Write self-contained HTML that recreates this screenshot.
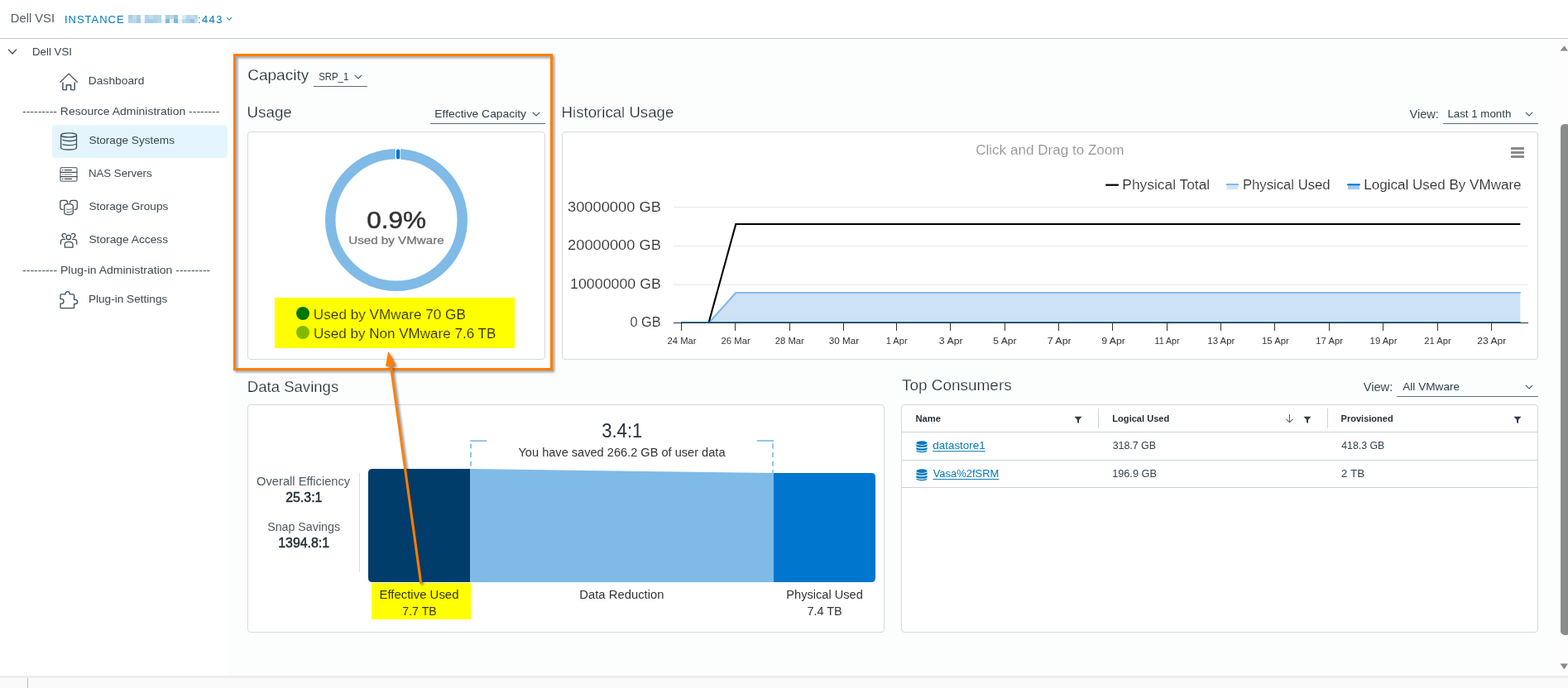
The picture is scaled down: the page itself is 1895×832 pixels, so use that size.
<!DOCTYPE html>
<html lang="en"><head><meta charset="utf-8"><title>Dell VSI - Storage Systems</title>
<style>
*{box-sizing:border-box;margin:0;padding:0}
html,body{width:1895px;height:832px;overflow:hidden;background:#fff}
body{font-family:"Liberation Sans",sans-serif;color:#3c4a52}
#app{position:relative;width:1895px;height:832px;overflow:hidden;background:#fff}
.t{position:absolute;white-space:pre;display:block;transform-origin:0 0}
.abs{position:absolute}
.main-bg{position:absolute;left:275px;top:47px;width:1620px;height:771px;background:#fcfdfd}
.hdr-line{position:absolute;left:0;top:46px;width:1895px;height:1px;background:#c9c9c9}
.card{position:absolute;background:#fff;border:1px solid #d9d9d9;border-radius:4px}
.nav-active{position:absolute;left:63px;top:151px;width:212px;height:40px;background:#e4f5fd;border-radius:4px}
.uline{position:absolute;height:1px;background:#5d6f79}
.hl{position:absolute;background:#ffff00;mix-blend-mode:multiply}
svg{position:absolute;overflow:visible}
a.t{text-decoration:underline;text-decoration-thickness:1px;text-underline-offset:1.5px}
.redact{position:absolute;left:155px;top:18px;width:84px;height:10px;display:grid;grid-template-columns:repeat(16,5px) 4px;grid-template-rows:5px 5px}
</style></head>
<body><div id="app">
<header>
<span class="t" style="left:12px;top:12px;font-size:15px;line-height:20px;color:#4f5a61;transform:translate(0.78px,0.00px) scaleX(0.9833);">Dell VSI</span>
<span class="t" style="left:77px;top:15px;font-size:13px;line-height:17px;color:#0079b8;letter-spacing:0.983px;transform:translate(1.00px,0.20px);">INSTANCE</span>
<span class="t" style="left:238px;top:15px;font-size:13px;line-height:17px;color:#0079b8;letter-spacing:1.357px;transform:translate(1.00px,0.20px);">:443</span>
<div class="redact" aria-hidden="true"><i style="background:#aacfe6"></i><i style="background:#c5dcea"></i><i style="background:#a9cfe6"></i><i style="background:#fdfefe"></i><i style="background:#b5d4e8"></i><i style="background:#c0e0ef"></i><i style="background:#b6d6e8"></i><i style="background:#b8d8ea"></i><i style="background:#fdfefe"></i><i style="background:#b0cfe4"></i><i style="background:#bad8e8"></i><i style="background:#98c8e3"></i><i style="background:#fdfefe"></i><i style="background:#dbe8f2"></i><i style="background:#b5d8eb"></i><i style="background:#c5dde9"></i><i style="background:#b5d9ee"></i><i style="background:#b5d6ea"></i><i style="background:#bdd8e8"></i><i style="background:#a5cce5"></i><i style="background:#eef6fb"></i><i style="background:#a9cfe6"></i><i style="background:#a8cfe6"></i><i style="background:#b0d2e6"></i><i style="background:#b5d6e9"></i><i style="background:#ecf4f8"></i><i style="background:#82b8db"></i><i style="background:#e8f0f8"></i><i style="background:#7fb8da"></i><i style="background:#edf5fa"></i><i style="background:#c0d5e6"></i><i style="background:#a8d4ec"></i><i style="background:#9cc4dd"></i><i style="background:#bfe2f2"></i></div>
<svg style="left:273px;top:19px" width="8" height="8" viewBox="0 0 8 8"><path d="M1 2.200 L4 5.200 L7 2.200" fill="none" stroke="#2a8cc4" stroke-width="1.1"/></svg>
</header>
<div class="hdr-line"></div>
<div class="main-bg"></div>
<nav>
<svg style="left:9px;top:57px" width="12" height="12" viewBox="0 0 12 12"><path d="M1 2.6 L6 8 L11 2.6" fill="none" stroke="#3c4a52" stroke-width="1.3"/></svg>
<span class="t" style="left:39px;top:53px;font-size:13px;line-height:17px;color:#3c4a52;transform:translate(0.00px,0.80px) scaleX(1.0227);">Dell VSI</span>
<div class="nav-active"></div>
<svg style="left:71px;top:87px" width="24" height="24" viewBox="71 87 24 24" fill="none" stroke="#3f4f58" stroke-width="1.300" stroke-linejoin="round" stroke-linecap="round"><path d="M72.900 99.300 L83.100 89.100 L93.300 99.300"/><path d="M75.900 99.900 V107.800 Q75.900 108.600 76.700 108.600 H80.400 V102.700 H85.600 V108.600 H89.400 Q90.200 108.600 90.200 107.800 V99.900" stroke-width="1.450"/></svg>
<span class="t" style="left:106px;top:89px;font-size:13px;line-height:17px;color:#3c4a52;transform:translate(0.86px,0.00px) scaleX(1.0618);">Dashboard</span>
<svg style="left:71px;top:159px" width="24" height="24" viewBox="71 159 24 24" fill="none" stroke="#3f4f58" stroke-width="1.300" stroke-linejoin="round" stroke-linecap="round"><ellipse cx="83.100" cy="163.400" rx="9.400" ry="2.500"/><path d="M73.700 163.400 V178.500 C73.700 180 78 181 83.100 181 C88.200 181 92.500 180 92.500 178.500 V163.400"/><path d="M76 169.400 C78 170.100 80.500 170.500 83.100 170.500 C86 170.500 89 170.100 91.500 169.300"/><path d="M76 174.600 C78 175.300 80.500 175.700 83.100 175.700 C86 175.700 89 175.300 91.500 174.500"/></svg>
<span class="t" style="left:107px;top:160px;font-size:13px;line-height:17px;color:#3c4a52;transform:translate(0.39px,0.80px) scaleX(1.0464);">Storage Systems</span>
<svg style="left:71px;top:199px" width="24" height="24" viewBox="71 199 24 24" fill="none" stroke="#3f4f58" stroke-width="1.300" stroke-linejoin="round" stroke-linecap="round"><rect x="73" y="202.700" width="20" height="16.400" rx="1.400" stroke="#64737b"/><path d="M73 208.300 H93 M73 213.700 H93"/><path d="M75.300 205.600 H76 M78.200 205.600 H86.600 M75.300 216.400 H76 M78.200 216.400 H86.600" stroke-width="1.100"/><path d="M75.300 211 H76 M78.200 211 H86.600" stroke-width="1.100" stroke="#77858c"/></svg>
<span class="t" style="left:106px;top:200px;font-size:13px;line-height:17px;color:#3c4a52;transform:translate(0.91px,0.70px) scaleX(1.0202);">NAS Servers</span>
<svg style="left:71px;top:239px" width="24" height="24" viewBox="71 239 24 24" fill="none" stroke="#3f4f58" stroke-width="1.300" stroke-linejoin="round" stroke-linecap="round"><path d="M76 253.300 H75.200 C73.600 253.300 72.800 252.300 72.800 250.800 V244.800 C72.800 243.200 73.800 242.400 75.200 242.400 H79 C80.600 242.400 81.400 243.300 81.400 244.800 V245.300"/><path d="M90.100 253.300 H90.900 C92.500 253.300 93.300 252.300 93.300 250.800 V244.800 C93.300 243.200 92.300 242.400 90.900 242.400 H87.100 C85.500 242.400 84.700 243.300 84.700 244.800 V245.300"/><path d="M77.800 249 C77.800 247.400 80 246.700 83.050 246.700 C86.100 246.700 88.300 247.400 88.300 249 V257.300 C88.300 258.900 86.100 259.600 83.050 259.600 C80 259.600 77.800 258.900 77.800 257.300 Z"/><path d="M80.600 252.900 C82 253.500 84.500 253.500 86.600 252.700 M80.600 256.200 C82 256.800 84.500 256.800 86.600 256" stroke-width="1.100" stroke="#6d7b83"/></svg>
<span class="t" style="left:107px;top:240px;font-size:13px;line-height:17px;color:#3c4a52;transform:translate(0.39px,0.60px) scaleX(1.0447);">Storage Groups</span>
<svg style="left:71px;top:279px" width="24" height="24" viewBox="71 279 24 24" fill="none" stroke="#3f4f58" stroke-width="1.300" stroke-linejoin="round" stroke-linecap="round"><circle cx="82.850" cy="287.100" r="2.700"/><path d="M78.300 299.200 V295.600 C78.300 293.500 80.300 292.400 83.100 292.400 C85.900 292.400 88 293.500 88 295.600 V299.200 Z"/><path d="M79.400 283.300 C78.800 282.400 77.300 282.100 76.300 282.800 C75.200 283.500 74.900 285 75.600 286.100 C76 286.700 76.500 287 77.200 287.200"/><path d="M86.600 283.300 C87.200 282.400 88.700 282.100 89.700 282.800 C90.800 283.500 91.100 285 90.400 286.100 C90 286.700 89.500 287 88.800 287.200"/><path d="M78.500 289.400 H76.400 C74.500 289.400 73.400 290.500 73.400 292.300 V295.300"/><path d="M87.600 289.400 H89.700 C91.600 289.400 92.700 290.500 92.700 292.300 V295.300"/></svg>
<span class="t" style="left:107px;top:280px;font-size:13px;line-height:17px;color:#3c4a52;transform:translate(0.38px,0.50px) scaleX(1.0596);">Storage Access</span>
<svg style="left:71px;top:351px" width="24" height="24" viewBox="71 351 24 24" fill="none" stroke="#3f4f58" stroke-width="1.300" stroke-linejoin="round" stroke-linecap="round"><path d="M73 357 Q73 355.900 74 355.900 H79 C79 354 80 352.700 81.700 352.700 C83.400 352.700 84.400 354 84.400 355.900 H88.600 Q89.600 355.900 89.600 357 V362.300 H91 C92.600 362.300 93.600 363.400 93.600 364.900 C93.600 366.400 92.600 367.500 91 367.500 H89.600 V371.700 Q89.600 372.700 88.600 372.700 H74 Q73 372.700 73 371.700 V367.200 H74.500 C76 367.200 77 366 77 364.400 C77 362.800 76 361.600 74.500 361.600 H73 Z"/></svg>
<span class="t" style="left:106px;top:352px;font-size:13px;line-height:17px;color:#3c4a52;transform:translate(0.88px,0.60px) scaleX(1.0476);">Plug-in Settings</span>
<span class="t" style="left:27px;top:126px;font-size:13px;line-height:17px;color:#3c4a52;transform:translate(0.07px,0.00px) scaleX(1.0746);">--------- Resource Administration --------</span>
<span class="t" style="left:27px;top:317px;font-size:13px;line-height:17px;color:#3c4a52;transform:translate(0.07px,0.70px) scaleX(1.0773);">--------- Plug-in Administration ---------</span>
</nav>
<main>
<h2 class="t" style="left:299px;top:78px;font-size:18px;line-height:24px;color:#1b2830;transform:translate(0.15px,0.90px) scaleX(1.0583);-webkit-text-stroke:0.25px #fcfdfd;font-weight:400;">Capacity</h2>
<span class="t" style="left:385px;top:83px;font-size:13px;line-height:17px;color:#2f3e47;transform:translate(0.19px,0.90px) scaleX(0.8755);">SRP_1</span>
<div class="uline" style="left:379px;top:104px;width:65px"></div>
<svg style="left:428.200px;top:88.800px" width="10" height="8" viewBox="0 0 10 8"><path d="M0.8 1.8 L5 6 L9.2 1.8" fill="none" stroke="#4a5960" stroke-width="1.2"/></svg>
<h3 class="t" style="left:298px;top:123px;font-size:18px;line-height:24px;color:#1b2830;transform:translate(0.55px,0.90px) scaleX(1.0429);-webkit-text-stroke:0.25px #fcfdfd;font-weight:400;">Usage</h3>
<span class="t" style="left:525px;top:128px;font-size:13px;line-height:17px;color:#2f3e47;transform:translate(0.36px,0.90px) scaleX(1.0662);">Effective Capacity</span>
<div class="uline" style="left:520px;top:149px;width:139px"></div>
<svg style="left:643px;top:133.800px" width="10" height="8" viewBox="0 0 10 8"><path d="M0.8 1.8 L5 6 L9.2 1.8" fill="none" stroke="#4a5960" stroke-width="1.2"/></svg>
<h3 class="t" style="left:678px;top:124px;font-size:18px;line-height:24px;color:#1b2830;transform:translate(0.56px,0.00px) scaleX(1.0358);-webkit-text-stroke:0.25px #fcfdfd;font-weight:400;">Historical Usage</h3>
<span class="t" style="left:1703px;top:128px;font-size:14px;line-height:19px;color:#3c4a52;transform:translate(0.43px,0.50px) scaleX(1.0412);">View:</span>
<span class="t" style="left:1749px;top:129px;font-size:13px;line-height:17px;color:#2f3e47;transform:translate(0.40px,0.00px) scaleX(1.0243);">Last 1 month</span>
<div class="uline" style="left:1744px;top:149px;width:115px"></div>
<svg style="left:1843px;top:133.800px" width="10" height="8" viewBox="0 0 10 8"><path d="M0.8 1.8 L5 6 L9.2 1.8" fill="none" stroke="#4a5960" stroke-width="1.2"/></svg>
<section class="card" style="left:299px;top:159px;width:360px;height:276px"></section>
<svg style="left:389px;top:176px" width="180" height="180" viewBox="389 176 180 180"><circle cx="479" cy="266" r="79.75" fill="none" stroke="#80bae7" stroke-width="12.5"/><path d="M477.9 179 L484.1 179 L484.3 194 L477.7 194 Z" fill="#fff"/><rect x="478.9" y="180.4" width="4.4" height="12.2" rx="2" fill="#0076ce"/></svg>
<span class="t" style="left:443px;top:246px;font-size:29px;line-height:38px;color:#333;transform:translate(0.24px,0.60px) scaleX(1.0865);-webkit-text-stroke:0.5px #333;">0.9%</span>
<span class="t" style="left:421px;top:281px;font-size:13.5px;line-height:18px;color:#757575;transform:translate(0.22px,0.80px) scaleX(1.1231);-webkit-text-stroke:0.3px #757575;">Used by VMware</span>
<i class="abs" style="left:358px;top:371px;width:16px;height:16px;border-radius:50%;background:#0076ce"></i>
<i class="abs" style="left:358px;top:394px;width:16px;height:16px;border-radius:50%;background:#80bae7"></i>
<span class="t" style="left:378px;top:369px;font-size:16px;line-height:21px;color:#2c2c2c;transform:translate(0.87px,0.70px) scaleX(1.0722);-webkit-text-stroke:0.15px #fff;">Used by VMware 70 GB</span>
<span class="t" style="left:378px;top:392px;font-size:16px;line-height:21px;color:#2c2c2c;transform:translate(0.88px,0.90px) scaleX(1.0657);-webkit-text-stroke:0.15px #fff;">Used by Non VMware 7.6 TB</span>
<section class="card" style="left:679px;top:159px;width:1180px;height:276px"></section>
<span class="t" style="left:1179px;top:171px;font-size:16px;line-height:21px;color:#929292;transform:translate(0.15px,0.00px) scaleX(1.0677);-webkit-text-stroke:0.15px #fff;">Click and Drag to Zoom</span>
<svg style="left:1825px;top:177px" width="18" height="14" viewBox="0 0 18 14"><g fill="#8b8b8b"><rect x="0.900" y="1.050" width="16.200" height="2.900" rx="0.900"/><rect x="0.900" y="6.050" width="16.200" height="2.900" rx="0.900"/><rect x="0.900" y="11.050" width="16.200" height="2.900" rx="0.900"/></g></svg>
<svg style="left:0;top:0" width="1895" height="832" viewBox="0 0 1895 832"><path d="M1336.200 223.700 H1351.900" stroke="#000" stroke-width="2.2" fill="none"/><rect x="1482.500" y="223" width="14" height="6" fill="#cfe3f5"/><path d="M1482.500 223 H1496.300" stroke="#80bae7" stroke-width="2" stroke-linecap="round" fill="none"/><rect x="1629" y="223" width="14" height="6" fill="#a3caed"/><path d="M1629 223.200 H1643" stroke="#0076ce" stroke-width="2" stroke-linecap="round" fill="none"/><g stroke="#e6e6e6" stroke-width="1" fill="none"><path d="M814 250.5 H1847"/><path d="M814 297.500 H1847"/><path d="M814 344.500 H1847"/></g><path d="M823.5 390 H857 L889.3 354 H1837.3 V390 Z" fill="#cde2f5"/><path d="M823.5 390 H857 L889.3 354 H1837.8" fill="none" stroke="#80bae7" stroke-width="2.1" stroke-linejoin="round"/><path d="M823.5 390 H856.6 L889.3 271 H1837.3" fill="none" stroke="#000" stroke-width="2.1" stroke-linejoin="miter"/><path d="M814 390.5 H1847" stroke="#333" stroke-width="1" fill="none"/><path d="M823.5 389.500 H1837.8" stroke="#0076ce" stroke-width="1.2" fill="none"/><path d="M823.5 391 V400" stroke="#333" stroke-width="1" fill="none"/><path d="M888.5 391 V400" stroke="#333" stroke-width="1" fill="none"/><path d="M954.5 391 V400" stroke="#333" stroke-width="1" fill="none"/><path d="M1019.5 391 V400" stroke="#333" stroke-width="1" fill="none"/><path d="M1083.5 391 V400" stroke="#333" stroke-width="1" fill="none"/><path d="M1148.5 391 V400" stroke="#333" stroke-width="1" fill="none"/><path d="M1214.5 391 V400" stroke="#333" stroke-width="1" fill="none"/><path d="M1279.5 391 V400" stroke="#333" stroke-width="1" fill="none"/><path d="M1344.5 391 V400" stroke="#333" stroke-width="1" fill="none"/><path d="M1410.5 391 V400" stroke="#333" stroke-width="1" fill="none"/><path d="M1475.5 391 V400" stroke="#333" stroke-width="1" fill="none"/><path d="M1540.5 391 V400" stroke="#333" stroke-width="1" fill="none"/><path d="M1606.5 391 V400" stroke="#333" stroke-width="1" fill="none"/><path d="M1671.5 391 V400" stroke="#333" stroke-width="1" fill="none"/><path d="M1737.5 391 V400" stroke="#333" stroke-width="1" fill="none"/><path d="M1802.5 391 V400" stroke="#333" stroke-width="1" fill="none"/></svg>
<span class="t" style="left:1356px;top:213px;font-size:16px;line-height:21px;color:#2c2c2c;transform:translate(0.37px,0.10px) scaleX(1.0845);-webkit-text-stroke:0.15px #fff;">Physical Total</span>
<span class="t" style="left:1501px;top:213px;font-size:16px;line-height:21px;color:#2c2c2c;transform:translate(0.92px,0.10px) scaleX(1.0420);-webkit-text-stroke:0.15px #fff;">Physical Used</span>
<span class="t" style="left:1648px;top:213px;font-size:16px;line-height:21px;color:#2c2c2c;transform:translate(0.29px,0.10px) scaleX(1.0644);-webkit-text-stroke:0.15px #fff;">Logical Used By VMware</span>
<span class="t" style="left:686px;top:239px;font-size:16px;line-height:21px;color:#2c2c2c;transform:translate(0.01px,0.70px) scaleX(1.1426);-webkit-text-stroke:0.15px #fff;">30000000 GB</span>
<span class="t" style="left:686px;top:286px;font-size:16px;line-height:21px;color:#2c2c2c;transform:translate(0.09px,0.20px) scaleX(1.1419);-webkit-text-stroke:0.15px #fff;">20000000 GB</span>
<span class="t" style="left:689px;top:332px;font-size:16px;line-height:21px;color:#2c2c2c;transform:translate(0.07px,0.50px) scaleX(1.1115);-webkit-text-stroke:0.15px #fff;">10000000 GB</span>
<span class="t" style="left:761px;top:378px;font-size:16px;line-height:21px;color:#2c2c2c;transform:translate(0.45px,0.70px) scaleX(1.0229);-webkit-text-stroke:0.15px #fff;">0 GB</span>
<span class="t" style="left:806px;top:404px;font-size:11px;line-height:15px;color:#333;transform:translate(0.54px,0.90px) scaleX(1.0217);">24 Mar</span>
<span class="t" style="left:871px;top:404px;font-size:11px;line-height:15px;color:#333;transform:translate(0.54px,0.90px) scaleX(1.0262);">26 Mar</span>
<span class="t" style="left:936px;top:404px;font-size:11px;line-height:15px;color:#333;transform:translate(0.84px,0.90px) scaleX(1.0232);">28 Mar</span>
<span class="t" style="left:1001px;top:404px;font-size:11px;line-height:15px;color:#333;transform:translate(0.76px,0.90px) scaleX(1.0636);">30 Mar</span>
<span class="t" style="left:1070px;top:404px;font-size:11px;line-height:15px;color:#333;transform:translate(0.66px,0.90px) scaleX(1.0124);">1 Apr</span>
<span class="t" style="left:1134px;top:404px;font-size:11px;line-height:15px;color:#333;transform:translate(0.84px,0.90px) scaleX(1.1192);">3 Apr</span>
<span class="t" style="left:1200px;top:404px;font-size:11px;line-height:15px;color:#333;transform:translate(0.21px,0.90px) scaleX(1.1085);">5 Apr</span>
<span class="t" style="left:1265px;top:404px;font-size:11px;line-height:15px;color:#333;transform:translate(0.65px,0.90px) scaleX(1.1306);">7 Apr</span>
<span class="t" style="left:1331px;top:404px;font-size:11px;line-height:15px;color:#333;transform:translate(0.17px,0.90px) scaleX(1.1141);">9 Apr</span>
<span class="t" style="left:1395px;top:404px;font-size:11px;line-height:15px;color:#333;transform:translate(0.60px,0.90px) scaleX(0.9666);">11 Apr</span>
<span class="t" style="left:1459px;top:404px;font-size:11px;line-height:15px;color:#333;transform:translate(0.35px,0.90px) scaleX(1.0357);">13 Apr</span>
<span class="t" style="left:1525px;top:404px;font-size:11px;line-height:15px;color:#333;transform:translate(0.05px,0.90px) scaleX(1.0292);">15 Apr</span>
<span class="t" style="left:1590px;top:404px;font-size:11px;line-height:15px;color:#333;transform:translate(0.36px,0.90px) scaleX(1.0227);">17 Apr</span>
<span class="t" style="left:1655px;top:404px;font-size:11px;line-height:15px;color:#333;transform:translate(0.55px,0.90px) scaleX(1.0357);">19 Apr</span>
<span class="t" style="left:1721px;top:404px;font-size:11px;line-height:15px;color:#333;transform:translate(0.24px,0.90px) scaleX(1.0201);">21 Apr</span>
<span class="t" style="left:1785px;top:404px;font-size:11px;line-height:15px;color:#333;transform:translate(0.30px,0.90px) scaleX(1.0973);">23 Apr</span>
<h3 class="t" style="left:298px;top:455px;font-size:18px;line-height:24px;color:#1b2830;transform:translate(0.87px,0.80px) scaleX(1.0301);-webkit-text-stroke:0.25px #fcfdfd;font-weight:400;">Data Savings</h3>
<section class="card" style="left:299px;top:489px;width:770px;height:276px"></section>
<span class="t" style="left:310px;top:573px;font-size:14px;line-height:19px;color:#50595f;transform:translate(0.10px,0.00px) scaleX(1.0475);">Overall Efficiency</span>
<span class="t" style="left:345px;top:591px;font-size:16px;line-height:21px;color:#1f2d35;transform:translate(0.20px,0.00px) scaleX(0.9949);-webkit-text-stroke:0.5px #1f2d35;">25.3:1</span>
<span class="t" style="left:323px;top:628px;font-size:14px;line-height:19px;color:#50595f;transform:translate(0.16px,0.20px) scaleX(1.0169);">Snap Savings</span>
<span class="t" style="left:336px;top:645px;font-size:16px;line-height:21px;color:#1f2d35;transform:translate(0.21px,0.70px) scaleX(0.9930);-webkit-text-stroke:0.5px #1f2d35;">1394.8:1</span>
<div class="abs" style="left:434px;top:572px;width:1px;height:120px;background:#dcdcdc"></div>
<svg style="left:0;top:0" width="1895" height="832" viewBox="0 0 1895 832"><path d="M568 567 H450 Q445 567 445 572 V699 Q445 704 450 704 H568 Z" fill="#003d6b"/><path d="M568 567 L935 572 V704 H568 Z" fill="#80bae7"/><path d="M935 572 H1053 Q1058 572 1058 577 V699 Q1058 704 1053 704 H935 Z" fill="#0076ce"/><g fill="none" stroke="#80bae7" stroke-width="1.700"><path d="M568.200 533.200 H588"/><path d="M569 536.5 V567" stroke-dasharray="6 4.6"/><path d="M915 533 H935"/><path d="M934 536.5 V572" stroke-dasharray="6 4.6"/></g></svg>
<span class="t" style="left:727px;top:504px;font-size:24px;line-height:32px;color:#25323a;transform:translate(0.17px,0.80px) scaleX(0.9220);">3.4:1</span>
<span class="t" style="left:626px;top:537px;font-size:14px;line-height:19px;color:#333;transform:translate(0.47px,0.70px) scaleX(1.0418);">You have saved 266.2 GB of user data</span>
<span class="t" style="left:458px;top:709px;font-size:14px;line-height:19px;color:#333;transform:translate(0.47px,0.75px) scaleX(1.0665);">Effective Used</span>
<span class="t" style="left:486px;top:729px;font-size:14px;line-height:19px;color:#333;transform:translate(0.26px,0.75px) scaleX(1.0123);">7.7 TB</span>
<span class="t" style="left:700px;top:709px;font-size:14px;line-height:19px;color:#333;transform:translate(0.28px,0.80px) scaleX(1.0590);">Data Reduction</span>
<span class="t" style="left:950px;top:709px;font-size:14px;line-height:19px;color:#333;transform:translate(0.30px,0.90px) scaleX(1.0432);">Physical Used</span>
<span class="t" style="left:975px;top:730px;font-size:14px;line-height:19px;color:#333;transform:translate(0.44px,0.00px) scaleX(1.0325);">7.4 TB</span>
<h3 class="t" style="left:1089px;top:454px;font-size:18px;line-height:24px;color:#1b2830;transform:translate(0.97px,0.00px) scaleX(1.0527);-webkit-text-stroke:0.25px #fcfdfd;font-weight:400;">Top Consumers</h3>
<span class="t" style="left:1647px;top:459px;font-size:14px;line-height:19px;color:#3c4a52;transform:translate(0.63px,0.00px) scaleX(1.0504);">View:</span>
<span class="t" style="left:1695px;top:458px;font-size:13px;line-height:17px;color:#2f3e47;transform:translate(0.27px,0.80px) scaleX(1.0471);">All VMware</span>
<div class="uline" style="left:1688px;top:479px;width:171px"></div>
<svg style="left:1842.500px;top:463.800px" width="10" height="8" viewBox="0 0 10 8"><path d="M0.8 1.8 L5 6 L9.2 1.8" fill="none" stroke="#4a5960" stroke-width="1.2"/></svg>
<section class="card" style="left:1089px;top:489px;width:770px;height:276px"></section>
<div class="abs" style="left:1090px;top:522px;width:768px;height:1px;background:#ccd5da"></div>
<div class="abs" style="left:1090px;top:556px;width:768px;height:1px;background:#ccd5da"></div>
<div class="abs" style="left:1090px;top:589px;width:768px;height:1px;background:#ccd5da"></div>
<div class="abs" style="left:1327px;top:494px;width:1px;height:24px;background:#ccd5da"></div>
<div class="abs" style="left:1604px;top:494px;width:1px;height:24px;background:#ccd5da"></div>
<span class="t" style="left:1106px;top:498px;font-size:11px;line-height:15px;color:#1f2d35;transform:translate(0.44px,0.90px) scaleX(1.0226);font-weight:700;">Name</span>
<span class="t" style="left:1344px;top:499px;font-size:11px;line-height:15px;color:#1f2d35;transform:translate(0.35px,0.00px) scaleX(1.0061);font-weight:700;">Logical Used</span>
<span class="t" style="left:1620px;top:499px;font-size:11px;line-height:15px;color:#1f2d35;transform:translate(0.55px,0.00px) scaleX(1.0034);font-weight:700;">Provisioned</span>
<svg style="left:1298px;top:503px" width="10" height="10" viewBox="0 0 10 10"><path d="M0.5 0.800 H9.500 L6 4.800 V9 L4 7.800 V4.800 Z" fill="#313e46"/></svg>
<svg style="left:1575px;top:503px" width="10" height="10" viewBox="0 0 10 10"><path d="M0.5 0.800 H9.500 L6 4.800 V9 L4 7.800 V4.800 Z" fill="#313e46"/></svg>
<svg style="left:1829px;top:503px" width="10" height="10" viewBox="0 0 10 10"><path d="M0.5 0.800 H9.500 L6 4.800 V9 L4 7.800 V4.800 Z" fill="#313e46"/></svg>
<svg style="left:1552.500px;top:500px" width="11" height="12" viewBox="0 0 11 12"><path d="M5.5 1 V10.500 M1.500 6.800 L5.500 10.800 L9.500 6.800" fill="none" stroke="#5a6a72" stroke-width="1.1"/></svg>
<svg style="left:1107px;top:533.2px" width="14" height="15" viewBox="0 0 14 15"><g fill="#0079b8"><ellipse cx="7" cy="2.6" rx="6.6" ry="2.4"/><path d="M0.400 4.300 C2 6.200 12 6.200 13.600 4.300 V6.600 C12 8.600 2 8.600 0.400 6.600 Z"/><path d="M0.400 7.900 C2 9.800 12 9.800 13.600 7.900 V10.200 C12 12.200 2 12.200 0.400 10.200 Z"/><path d="M0.400 11.500 C2 13.400 12 13.400 13.600 11.500 V12 C13.600 15 0.400 15 0.400 12 Z"/></g></svg>
<a class="t" style="left:1127px;top:530px;font-size:13px;line-height:17px;color:#0079b8;transform:translate(0.13px,0.20px) scaleX(1.0373);">datastore1</a>
<span class="t" style="left:1344px;top:530px;font-size:13px;line-height:17px;color:#33424b;transform:translate(0.63px,0.20px) scaleX(0.9543);">318.7 GB</span>
<span class="t" style="left:1621px;top:530px;font-size:13px;line-height:17px;color:#33424b;transform:translate(0.22px,0.20px) scaleX(0.9453);">418.3 GB</span>
<svg style="left:1107px;top:567.1px" width="14" height="15" viewBox="0 0 14 15"><g fill="#0079b8"><ellipse cx="7" cy="2.6" rx="6.6" ry="2.4"/><path d="M0.400 4.300 C2 6.200 12 6.200 13.600 4.300 V6.600 C12 8.600 2 8.600 0.400 6.600 Z"/><path d="M0.400 7.900 C2 9.800 12 9.800 13.600 7.900 V10.200 C12 12.200 2 12.200 0.400 10.200 Z"/><path d="M0.400 11.500 C2 13.400 12 13.400 13.600 11.500 V12 C13.600 15 0.400 15 0.400 12 Z"/></g></svg>
<a class="t" style="left:1127px;top:564px;font-size:13px;line-height:17px;color:#0079b8;transform:translate(0.64px,0.10px) scaleX(0.9973);">Vasa%2fSRM</a>
<span class="t" style="left:1344px;top:564px;font-size:13px;line-height:17px;color:#33424b;transform:translate(0.15px,0.10px) scaleX(0.9781);">196.9 GB</span>
<span class="t" style="left:1620px;top:564px;font-size:13px;line-height:17px;color:#33424b;transform:translate(0.82px,0.10px) scaleX(1.0424);">2 TB</span>
</main>
<div class="hl" style="left:332px;top:360px;width:290px;height:61px"></div>
<div class="hl" style="left:449px;top:705px;width:120px;height:44px"></div>
<svg style="left:0;top:0;filter:drop-shadow(2.2px 2.2px 1.8px rgba(50,55,62,0.55))" width="1895" height="832" viewBox="0 0 1895 832"><rect x="283.500" y="66.500" width="383" height="380" fill="none" stroke="#ff7f00" stroke-width="3"/></svg>
<svg style="left:0;top:0;filter:drop-shadow(2.2px 2.2px 1.8px rgba(50,55,62,0.6))" width="1895" height="832" viewBox="0 0 1895 832"><path d="M508.700 705.500 L472.200 441" fill="none" stroke="#ff7f00" stroke-width="3"/><path d="M469.300 424.800 L478.200 441.400 L466 443 Z" fill="#ff7f00"/></svg>
<div class="abs" style="left:1883px;top:47px;width:12px;height:771px;background:#fdfdfd"></div>
<div class="abs" style="left:1886px;top:149.500px;width:12px;height:618px;border-radius:5px;background:#8b8b8b"></div>
<svg style="left:1885px;top:55px" width="10" height="7" viewBox="0 0 10 7"><path d="M0.500 6.500 L5.500 0.300 L10 6.500 Z" fill="#8b8b8b"/></svg>
<svg style="left:1885px;top:802px" width="10" height="8" viewBox="0 0 10 8"><path d="M0.500 0.500 L5.500 7.500 L10 0.500 Z" fill="#8b8b8b"/></svg>
<div class="abs" style="left:0;top:817px;width:1895px;height:3px;background:#ececec"></div>
<div class="abs" style="left:0;top:820px;width:1895px;height:12px;background:#f9f9f9"></div>
<div class="abs" style="left:33px;top:820px;width:1px;height:12px;background:#bdbdbd"></div>
</div></body></html>
